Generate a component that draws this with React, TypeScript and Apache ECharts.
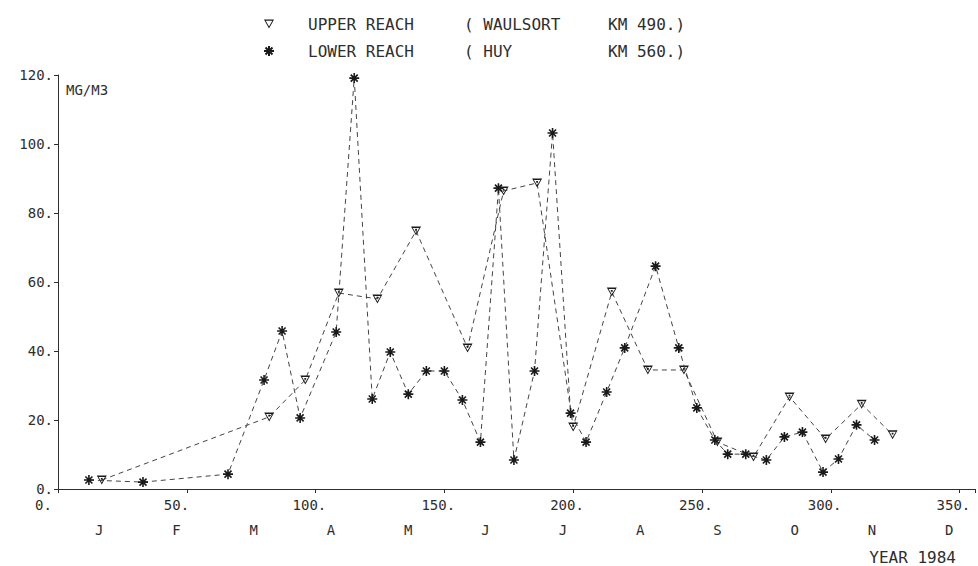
import React, { useEffect, useRef } from 'react';
import * as echarts from 'echarts';

// Day of year for each sample and concentration (MG/M3)
const upperDays = [17, 82, 96, 109, 124, 139, 159, 173, 186, 200, 215, 229, 243, 256, 270, 284, 298, 312, 324];
const upperValues = [2.6, 20.9, 31.6, 56.8, 55.1, 74.8, 40.9, 86.4, 88.7, 18.0, 57.1, 34.5, 34.5, 13.6, 9.3, 26.7, 14.5, 24.6, 15.7];

const lowerDays = [12, 33, 66, 80, 87, 94, 108, 115, 122, 129, 136, 143, 150, 157, 164, 171, 177, 185, 192, 199, 205, 213, 220, 232, 241, 248, 255, 260, 267, 275, 282, 289, 297, 303, 310, 317];
const lowerValues = [2.6, 2.0, 4.3, 31.6, 45.8, 20.6, 45.5, 119.1, 26.1, 39.7, 27.5, 34.2, 34.2, 25.8, 13.6, 87.2, 8.4, 34.2, 103.2, 22.0, 13.6, 28.1, 40.9, 64.6, 40.9, 23.5, 14.2, 10.1, 10.1, 8.4, 15.1, 16.5, 4.9, 8.7, 18.6, 14.2];

const months = ['J', 'F', 'M', 'A', 'M', 'J', 'J', 'A', 'S', 'O', 'N', 'D'];
const monthDays = [16, 46, 76, 106, 136, 166, 196, 226, 256, 286, 316, 346];

const upperLegend = ['UPPER REACH', '( WAULSORT', 'KM 490.)'];
const lowerLegend = ['LOWER REACH', '( HUY', 'KM 560.)'];

const unitLabel = 'MG/M3';
const yearLabel = 'YEAR 1984';

const X_MIN = 0;
const X_MAX = 356;
const X_INTERVAL = 50;
const Y_MIN = 0;
const Y_MAX = 120;
const Y_INTERVAL = 20;

const FONT = "'DejaVu Sans Mono', 'Liberation Mono', monospace";
const INK = '#2e2e2e';

const triSymbol = 'path://M0,0L10,0L5,9ZM1.8,1.5L5,7.0L8.2,1.5ZM4.1,2.4L5.9,2.4L5.9,4.2L4.1,4.2Z';
const triLegendIcon = 'path://M0,0L10,0L5,9ZM1.7,1.3L5,7.1L8.3,1.3Z';
const starSymbol = 'path://M5,0L5,10M0,5L10,5M1.5,1.5L8.5,8.5M1.5,8.5L8.5,1.5';

export default function App() {
  const ref = useRef<HTMLDivElement>(null);

  useEffect(() => {
    if (!ref.current) return;
    const chart = echarts.init(ref.current, undefined, { renderer: 'svg' });

    const upperName = upperLegend.join(' ');
    const lowerName = lowerLegend.join(' ');
    const dayCategories: string[] = [];
    for (let d = X_MIN; d <= X_MAX; d++) dayCategories.push(String(d));

    const richBase = { fontFamily: FONT, fontSize: 16, color: INK, lineHeight: 18 };

    chart.setOption({
      animation: false,
      backgroundColor: '#ffffff',
      grid: { left: 58, right: 2, top: 75, bottom: 77, containLabel: false },
      legend: {
        orient: 'vertical',
        left: 258,
        top: 10,
        itemWidth: 10,
        itemHeight: 10,
        itemGap: 9,
        selectedMode: false,
        data: [
          { name: upperName, icon: triLegendIcon },
          { name: lowerName, icon: starSymbol },
        ],
        formatter: (name: string) => {
          const p = name === upperName ? upperLegend : lowerLegend;
          return `{g| }{a|${p[0]}}{b|${p[1]}}{c|${p[2]}}`;
        },
        textStyle: {
          ...richBase,
          rich: {
            g: { ...richBase, width: 29 },
            a: { ...richBase, width: 156 },
            b: { ...richBase, width: 144 },
            c: { ...richBase },
          },
        },
      },
      xAxis: [
        {
          type: 'value',
          min: X_MIN,
          max: X_MAX,
          interval: X_INTERVAL,
          splitLine: { show: false },
          axisLine: { lineStyle: { color: INK, width: 1 } },
          axisTick: { length: 4, lineStyle: { color: INK, width: 1 } },
          axisLabel: {
            margin: 9,
            color: INK,
            fontFamily: FONT,
            fontSize: 14,
            formatter: (v: number) => (v % X_INTERVAL === 0 ? `{a|${v}.}` : ''),
            rich: { a: { width: 46, align: 'left', fontFamily: FONT, fontSize: 14, color: INK } },
          },
        },
        {
          type: 'category',
          position: 'bottom',
          offset: 25,
          boundaryGap: false,
          data: dayCategories,
          axisLine: { show: false },
          axisTick: { show: false },
          splitLine: { show: false },
          axisLabel: {
            margin: 9,
            color: INK,
            fontFamily: FONT,
            fontSize: 14,
            interval: (index: number) => monthDays.indexOf(index + X_MIN) >= 0,
            formatter: (value: string) => {
              const i = monthDays.indexOf(Number(value));
              return i >= 0 ? months[i] : '';
            },
          },
        },
      ],
      yAxis: {
        type: 'value',
        min: Y_MIN,
        max: Y_MAX,
        interval: Y_INTERVAL,
        splitLine: { show: false },
        axisLine: { show: true, lineStyle: { color: INK, width: 1 } },
        axisTick: { show: true, length: 4, lineStyle: { color: INK, width: 1 } },
        axisLabel: {
          margin: 5,
          color: INK,
          fontFamily: FONT,
          fontSize: 14,
          padding: [0, 0, 8, 0],
          formatter: (v: number) => `${v}.`,
        },
      },
      graphic: [
        {
          type: 'text',
          left: 66,
          top: 83,
          style: { text: unitLabel, fontFamily: FONT, fontSize: 14, fill: INK },
        },
        {
          type: 'text',
          right: 22,
          top: 549,
          style: { text: yearLabel, fontFamily: FONT, fontSize: 16, fill: INK },
        },
      ],
      series: [
        {
          name: upperName,
          type: 'line',
          xAxisIndex: 0,
          data: upperDays.map((d, i) => [d, upperValues[i]]),
          symbol: triSymbol,
          symbolSize: [10, 9],
          showSymbol: true,
          lineStyle: { type: [5, 4], width: 1, color: '#444' },
          itemStyle: { color: '#1a1a1a', borderWidth: 0 },
          emphasis: { disabled: true },
          z: 3,
        },
        {
          name: lowerName,
          type: 'line',
          xAxisIndex: 0,
          data: lowerDays.map((d, i) => [d, lowerValues[i]]),
          symbol: starSymbol,
          symbolSize: 10,
          showSymbol: true,
          lineStyle: { type: [5, 4], width: 1, color: '#444' },
          itemStyle: { color: '#1a1a1a', borderColor: '#1a1a1a', borderWidth: 1.6 },
          emphasis: { disabled: true },
          z: 4,
        },
      ],
    });

    return () => chart.dispose();
  }, []);

  return (
    <div
      ref={ref}
      style={{ position: 'fixed', left: 0, top: 0, width: 978, height: 566, background: '#fff' }}
    />
  );
}
